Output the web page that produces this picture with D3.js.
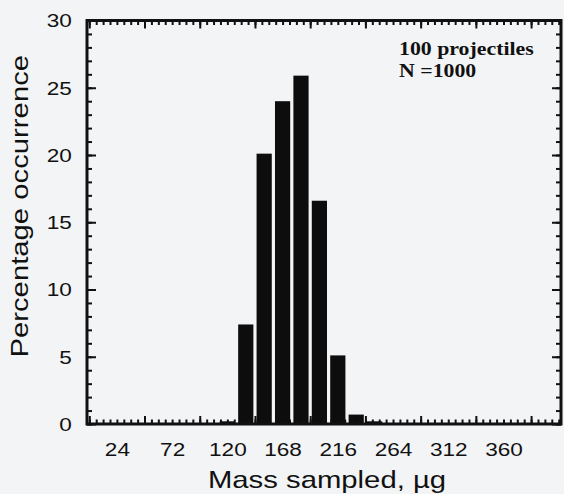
<!DOCTYPE html>
<html>
<head>
<meta charset="utf-8">
<script src="https://cdn.jsdelivr.net/npm/d3@7"></script>
<style>
  html, body { margin: 0; padding: 0; background: #f3f4f6; }
  svg { display: block; }
</style>
</head>
<body>
<svg id="chart" width="564" height="494"></svg>
<script>
// ---- data ----
const binCenters = [120, 136, 152, 168, 184, 200, 216, 232, 248];
const percentOccurrence = [0.2, 7.4, 20.1, 24.0, 25.9, 16.6, 5.1, 0.7, 0.2];
const binWidth = 16;
const xLabelValues = [24, 72, 120, 168, 216, 264, 312, 360];
const yLabelValues = [0, 5, 10, 15, 20, 25, 30];
const xTitle = "Mass sampled,  \u00b5g";
const yTitle = "Percentage occurrence";
const noteLines = ["100 projectiles", "N =1000"];

// ---- layout ----
const W = 564, H = 494;
const L = 87, R = 561, T = 20.5, B = 424;
const stretch = 1.22;
const sansFont = "'Liberation Sans', Arial, Helvetica, sans-serif";
const serifFont = "'Liberation Serif', 'Times New Roman', serif";

const svg = d3.select("#chart");
svg.append("rect").attr("width", W).attr("height", H).attr("fill", "#f3f4f6");

const x = d3.scaleLinear().domain([-2, 410]).range([L, R]);
const y = d3.scaleLinear().domain([0, 30]).range([B, T]);

const data = binCenters.map((c, i) => ({ c, v: percentOccurrence[i] }));

// bars
svg.append("g").selectAll("rect").data(data).join("rect")
  .attr("x", d => x(d.c - binWidth / 2) + 1.6)
  .attr("width", d => x(d.c + binWidth / 2) - x(d.c - binWidth / 2) - 3.2)
  .attr("y", d => y(d.v))
  .attr("height", d => y(0) - y(d.v))
  .attr("fill", "#0d0d0d");

// tick marks (inward on all four sides)
const xMinor = d3.range(0, 410, 6);
const xMajor = d3.range(0, 410, 48);
const yMinor = d3.range(0, 30.01, 1);
const yMajor = d3.range(0, 30.01, 5);

function tickAxis(axisFn, scale, values, size, transform) {
  const g = svg.append("g").attr("transform", transform)
    .call(axisFn(scale).tickValues(values).tickSize(size).tickFormat(""));
  g.select(".domain").remove();
  g.selectAll(".tick line").attr("stroke", "#111").attr("stroke-width", 2);
  return g;
}
tickAxis(d3.axisBottom, x, xMinor, -4.5, `translate(0,${B})`);
tickAxis(d3.axisBottom, x, xMajor, -8, `translate(0,${B})`);
tickAxis(d3.axisTop, x, xMinor, -4.5, `translate(0,${T})`);
tickAxis(d3.axisTop, x, xMajor, -8, `translate(0,${T})`);
tickAxis(d3.axisLeft, y, yMinor, -5, `translate(${L},0)`);
tickAxis(d3.axisLeft, y, yMajor, -9, `translate(${L},0)`);
tickAxis(d3.axisRight, y, yMinor, -5, `translate(${R},0)`);
tickAxis(d3.axisRight, y, yMajor, -9, `translate(${R},0)`);

// frame
svg.append("rect")
  .attr("x", L).attr("y", T).attr("width", R - L).attr("height", B - T)
  .attr("fill", "none").attr("stroke", "#111").attr("stroke-width", 3);

// x labels
const gxl = svg.append("g").attr("transform", `translate(0,${B})`)
  .call(d3.axisBottom(x).tickValues(xLabelValues).tickSize(0).tickPadding(0));
gxl.select(".domain").remove();
gxl.selectAll(".tick text")
  .attr("font-family", sansFont).attr("font-size", 18.5).attr("fill", "#111")
  .attr("y", 32.5).attr("dy", 0)
  .attr("transform", `scale(${stretch},1)`);

// y labels
const gyl = svg.append("g").attr("transform", `translate(${L},0)`)
  .call(d3.axisLeft(y).tickValues(yLabelValues).tickSize(0).tickPadding(0));
gyl.select(".domain").remove();
gyl.selectAll(".tick text")
  .attr("font-family", sansFont).attr("font-size", 18.5).attr("fill", "#111")
  .attr("x", -12.5).attr("dy", "0.35em")
  .attr("transform", `scale(${stretch},1)`);

// axis titles
svg.append("text")
  .attr("transform", `translate(327,488) scale(${stretch},1)`)
  .attr("text-anchor", "middle")
  .attr("font-family", sansFont).attr("font-size", 24).attr("fill", "#111")
  .text(xTitle);

svg.append("text")
  .attr("transform", `translate(28,${(T + B) / 2 - 16}) rotate(-90) scale(${stretch},1)`)
  .attr("text-anchor", "middle")
  .attr("font-family", sansFont).attr("font-size", 24).attr("fill", "#111")
  .text(yTitle);

// annotation
svg.append("g").selectAll("text").data(noteLines).join("text")
  .attr("transform", (d, i) => `translate(399,${55 + i * 22}) scale(1.18,1)`)
  .attr("font-family", serifFont).attr("font-weight", "bold")
  .attr("font-size", 18.5).attr("fill", "#111")
  .text(d => d);
</script>
</body>
</html>
